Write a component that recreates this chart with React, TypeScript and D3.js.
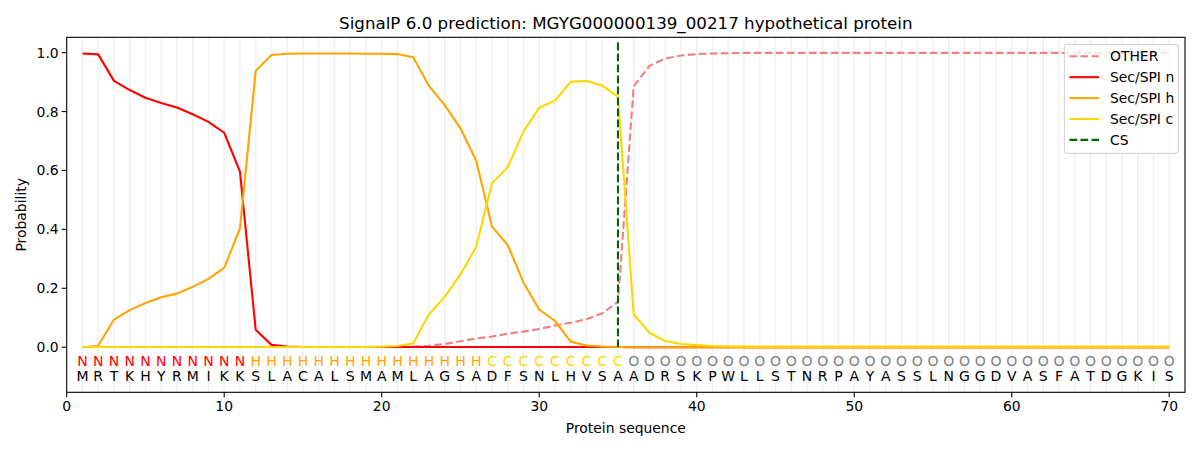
import React from "react";
import * as d3 from "d3";

const sequence = "MRTKHYRMIKKSLACALSMAMLAGSADFSNLHVSAADRSKPWLLSTNRPAYASSLNGGDVASFATDGKIS".split("");
const regionLabels = (
  "NNNNNNNNNNN" + "HHHHHHHHHHHHHHH" + "CCCCCCCCC" + "O".repeat(35)
).split("");

const secN = [
  0.997, 0.994, 0.904, 0.873, 0.847, 0.829, 0.814, 0.791, 0.765, 0.728,
  0.596, 0.059, 0.008, 0.002, 0.001, 0.001, 0.001, 0.001, 0.001, 0.001,
  0.001, 0.001, 0.001, 0.001, 0.001, 0.001, 0.001, 0.001, 0.001, 0.001,
  0.001, 0.001, 0.001, 0.001, 0.001, 0.0, 0.0, 0.0, 0.0, 0.0,
  0.0, 0.0, 0.0, 0.0, 0.0, 0.0, 0.0, 0.0, 0.0, 0.0,
  0.0, 0.0, 0.0, 0.0, 0.0, 0.0, 0.0, 0.0, 0.0, 0.0,
  0.0, 0.0, 0.0, 0.0, 0.0, 0.0, 0.0, 0.0, 0.0, 0.0,
];

const secH = [
  0.0, 0.005, 0.094, 0.126, 0.15, 0.17, 0.182, 0.205, 0.232, 0.269,
  0.403, 0.938, 0.992, 0.996, 0.997, 0.997, 0.997, 0.997, 0.996, 0.996,
  0.995, 0.984, 0.887, 0.822, 0.743, 0.633, 0.41, 0.347, 0.22, 0.128,
  0.089, 0.019, 0.006, 0.002, 0.001, 0.0, 0.0, 0.0, 0.0, 0.0,
  0.0, 0.0, 0.0, 0.0, 0.0, 0.0, 0.0, 0.0, 0.0, 0.0,
  0.0, 0.0, 0.0, 0.0, 0.0, 0.0, 0.0, 0.0, 0.0, 0.0,
  0.0, 0.0, 0.0, 0.0, 0.0, 0.0, 0.0, 0.0, 0.0, 0.0,
];

const secC = [
  0.001, 0.001, 0.001, 0.001, 0.001, 0.001, 0.001, 0.001, 0.001, 0.001,
  0.001, 0.001, 0.001, 0.001, 0.001, 0.001, 0.001, 0.001, 0.001, 0.002,
  0.004, 0.013, 0.112, 0.171, 0.247, 0.341, 0.557, 0.611, 0.732, 0.813,
  0.837, 0.901, 0.904, 0.888, 0.851, 0.112, 0.049, 0.021, 0.011, 0.007,
  0.004, 0.003, 0.002, 0.002, 0.002, 0.002, 0.002, 0.002, 0.002, 0.002,
  0.002, 0.002, 0.002, 0.002, 0.002, 0.002, 0.002, 0.002, 0.002, 0.002,
  0.002, 0.002, 0.002, 0.002, 0.002, 0.002, 0.002, 0.002, 0.002, 0.002,
];

const other = [
  0.001, 0.001, 0.001, 0.001, 0.001, 0.001, 0.001, 0.001, 0.001, 0.001,
  0.001, 0.001, 0.001, 0.001, 0.001, 0.001, 0.001, 0.001, 0.001, 0.001,
  0.001, 0.002, 0.005, 0.011, 0.02, 0.03, 0.036, 0.046, 0.053, 0.062,
  0.074, 0.083, 0.095, 0.115, 0.154, 0.886, 0.955, 0.98, 0.99, 0.995,
  0.997, 0.998, 0.999, 0.999, 0.999, 0.999, 0.999, 0.999, 0.999, 0.999,
  0.999, 0.999, 0.999, 0.999, 0.999, 0.999, 0.999, 0.999, 0.999, 0.999,
  0.999, 0.999, 0.999, 0.999, 0.999, 0.999, 0.999, 0.999, 0.999, 0.999,
];

const cleavageSite = 35;
const xTicks = [0, 10, 20, 30, 40, 50, 60, 70];
const yTicks = [0, 0.2, 0.4, 0.6, 0.8, 1.0];

const series = [
  { name: "OTHER", values: other, color: "#f08080", dash: "7.7,3.3" },
  { name: "Sec/SPI n", values: secN, color: "#ff0000", dash: null },
  { name: "Sec/SPI h", values: secH, color: "#ffa500", dash: null },
  { name: "Sec/SPI c", values: secC, color: "#ffd700", dash: null },
];

const labelColor: { [k: string]: string } = {
  N: "#ff0000",
  H: "#ffa500",
  C: "#ffd700",
  O: "#808080",
};

const W = 1200;
const H = 450;
const left = 66.7;
const right = 1185;
const top = 37.3;
const bottom = 392.3;
const font = "DejaVu Sans, sans-serif";

const App: React.FC = () => {
  const x = d3.scaleLinear().domain([0, 71]).range([left, right]);
  const y = d3.scaleLinear().domain([-0.153, 1.052]).range([bottom, top]);

  const line = d3
    .line<number>()
    .x((_, i) => x(i + 1))
    .y((d) => y(d));

  const positions = d3.range(1, sequence.length + 1);

  return (
    <div style={{ position: "absolute", left: 0, top: 0 }}>
      <svg width={W} height={H} style={{ display: "block", background: "white" }} fontFamily={font}>
        <defs>
          <clipPath id="plot-area">
            <rect x={left} y={top} width={right - left} height={bottom - top} />
          </clipPath>
        </defs>

        {/* light vertical guides at every residue */}
        {positions.map((p) => (
          <line key={"g" + p} x1={x(p)} x2={x(p)} y1={top} y2={bottom} stroke="#f0f0f0" strokeWidth={1.4} />
        ))}

        <g clipPath="url(#plot-area)">
          {series.map((s) => (
            <path
              key={s.name}
              d={line(s.values) || ""}
              fill="none"
              stroke={s.color}
              strokeWidth={2.1}
              strokeDasharray={s.dash || undefined}
              strokeLinejoin="round"
            />
          ))}
          <line
            x1={x(cleavageSite)}
            x2={x(cleavageSite)}
            y1={y(0)}
            y2={y(1.035)}
            stroke="#006400"
            strokeWidth={2.1}
            strokeDasharray="7.7,3.3"
          />
        </g>

        {/* region labels and residues */}
        {positions.map((p, i) => (
          <g key={"t" + p} fontSize={14} textAnchor="middle" dominantBaseline="central">
            <text x={x(p)} y={y(-0.047)} fill={labelColor[regionLabels[i]]}>
              {regionLabels[i]}
            </text>
            <text x={x(p)} y={y(-0.097)} fill="#000">
              {sequence[i]}
            </text>
          </g>
        ))}

        {/* axes frame */}
        <rect x={left} y={top} width={right - left} height={bottom - top} fill="none" stroke="#000" strokeWidth={1.1} />

        {xTicks.map((t) => (
          <g key={"xt" + t}>
            <line x1={x(t)} x2={x(t)} y1={bottom} y2={bottom + 4.9} stroke="#000" strokeWidth={1.1} />
            <text x={x(t)} y={bottom + 8} fontSize={13.9} textAnchor="middle" dominantBaseline="hanging" fill="#000">
              {t}
            </text>
          </g>
        ))}
        {yTicks.map((t) => (
          <g key={"yt" + t}>
            <line x1={left - 4.9} x2={left} y1={y(t)} y2={y(t)} stroke="#000" strokeWidth={1.1} />
            <text x={left - 8} y={y(t)} fontSize={13.9} textAnchor="end" dominantBaseline="central" fill="#000">
              {d3.format(".1f")(t)}
            </text>
          </g>
        ))}

        <text x={(left + right) / 2} y={433} fontSize={13.9} textAnchor="middle" fill="#000">
          Protein sequence
        </text>
        <text
          transform={`translate(26,${(top + bottom) / 2}) rotate(-90)`}
          fontSize={13.9}
          textAnchor="middle"
          fill="#000"
        >
          Probability
        </text>
        <text x={(left + right) / 2} y={29} fontSize={16.7} textAnchor="middle" fill="#000">
          SignalP 6.0 prediction: MGYG000000139_00217 hypothetical protein
        </text>

        {/* legend */}
        <g>
          <rect x={1064.3} y={44.3} width={114} height={109} rx={3} fill="white" fillOpacity={0.8} stroke="#cccccc" strokeWidth={1} />
          {[...series.map((s) => ({ name: s.name, color: s.color, dash: s.dash })), { name: "CS", color: "#006400", dash: "7.7,3.3" }].map(
            (s, i) => {
              const ly = 56.3 + i * 20.9;
              return (
                <g key={"lg" + s.name}>
                  <line x1={1069.5} x2={1099} y1={ly} y2={ly} stroke={s.color} strokeWidth={2.1} strokeDasharray={s.dash || undefined} />
                  <text x={1110} y={ly} fontSize={13.9} dominantBaseline="central" fill="#000">
                    {s.name}
                  </text>
                </g>
              );
            }
          )}
        </g>
      </svg>
    </div>
  );
};

export default App;
